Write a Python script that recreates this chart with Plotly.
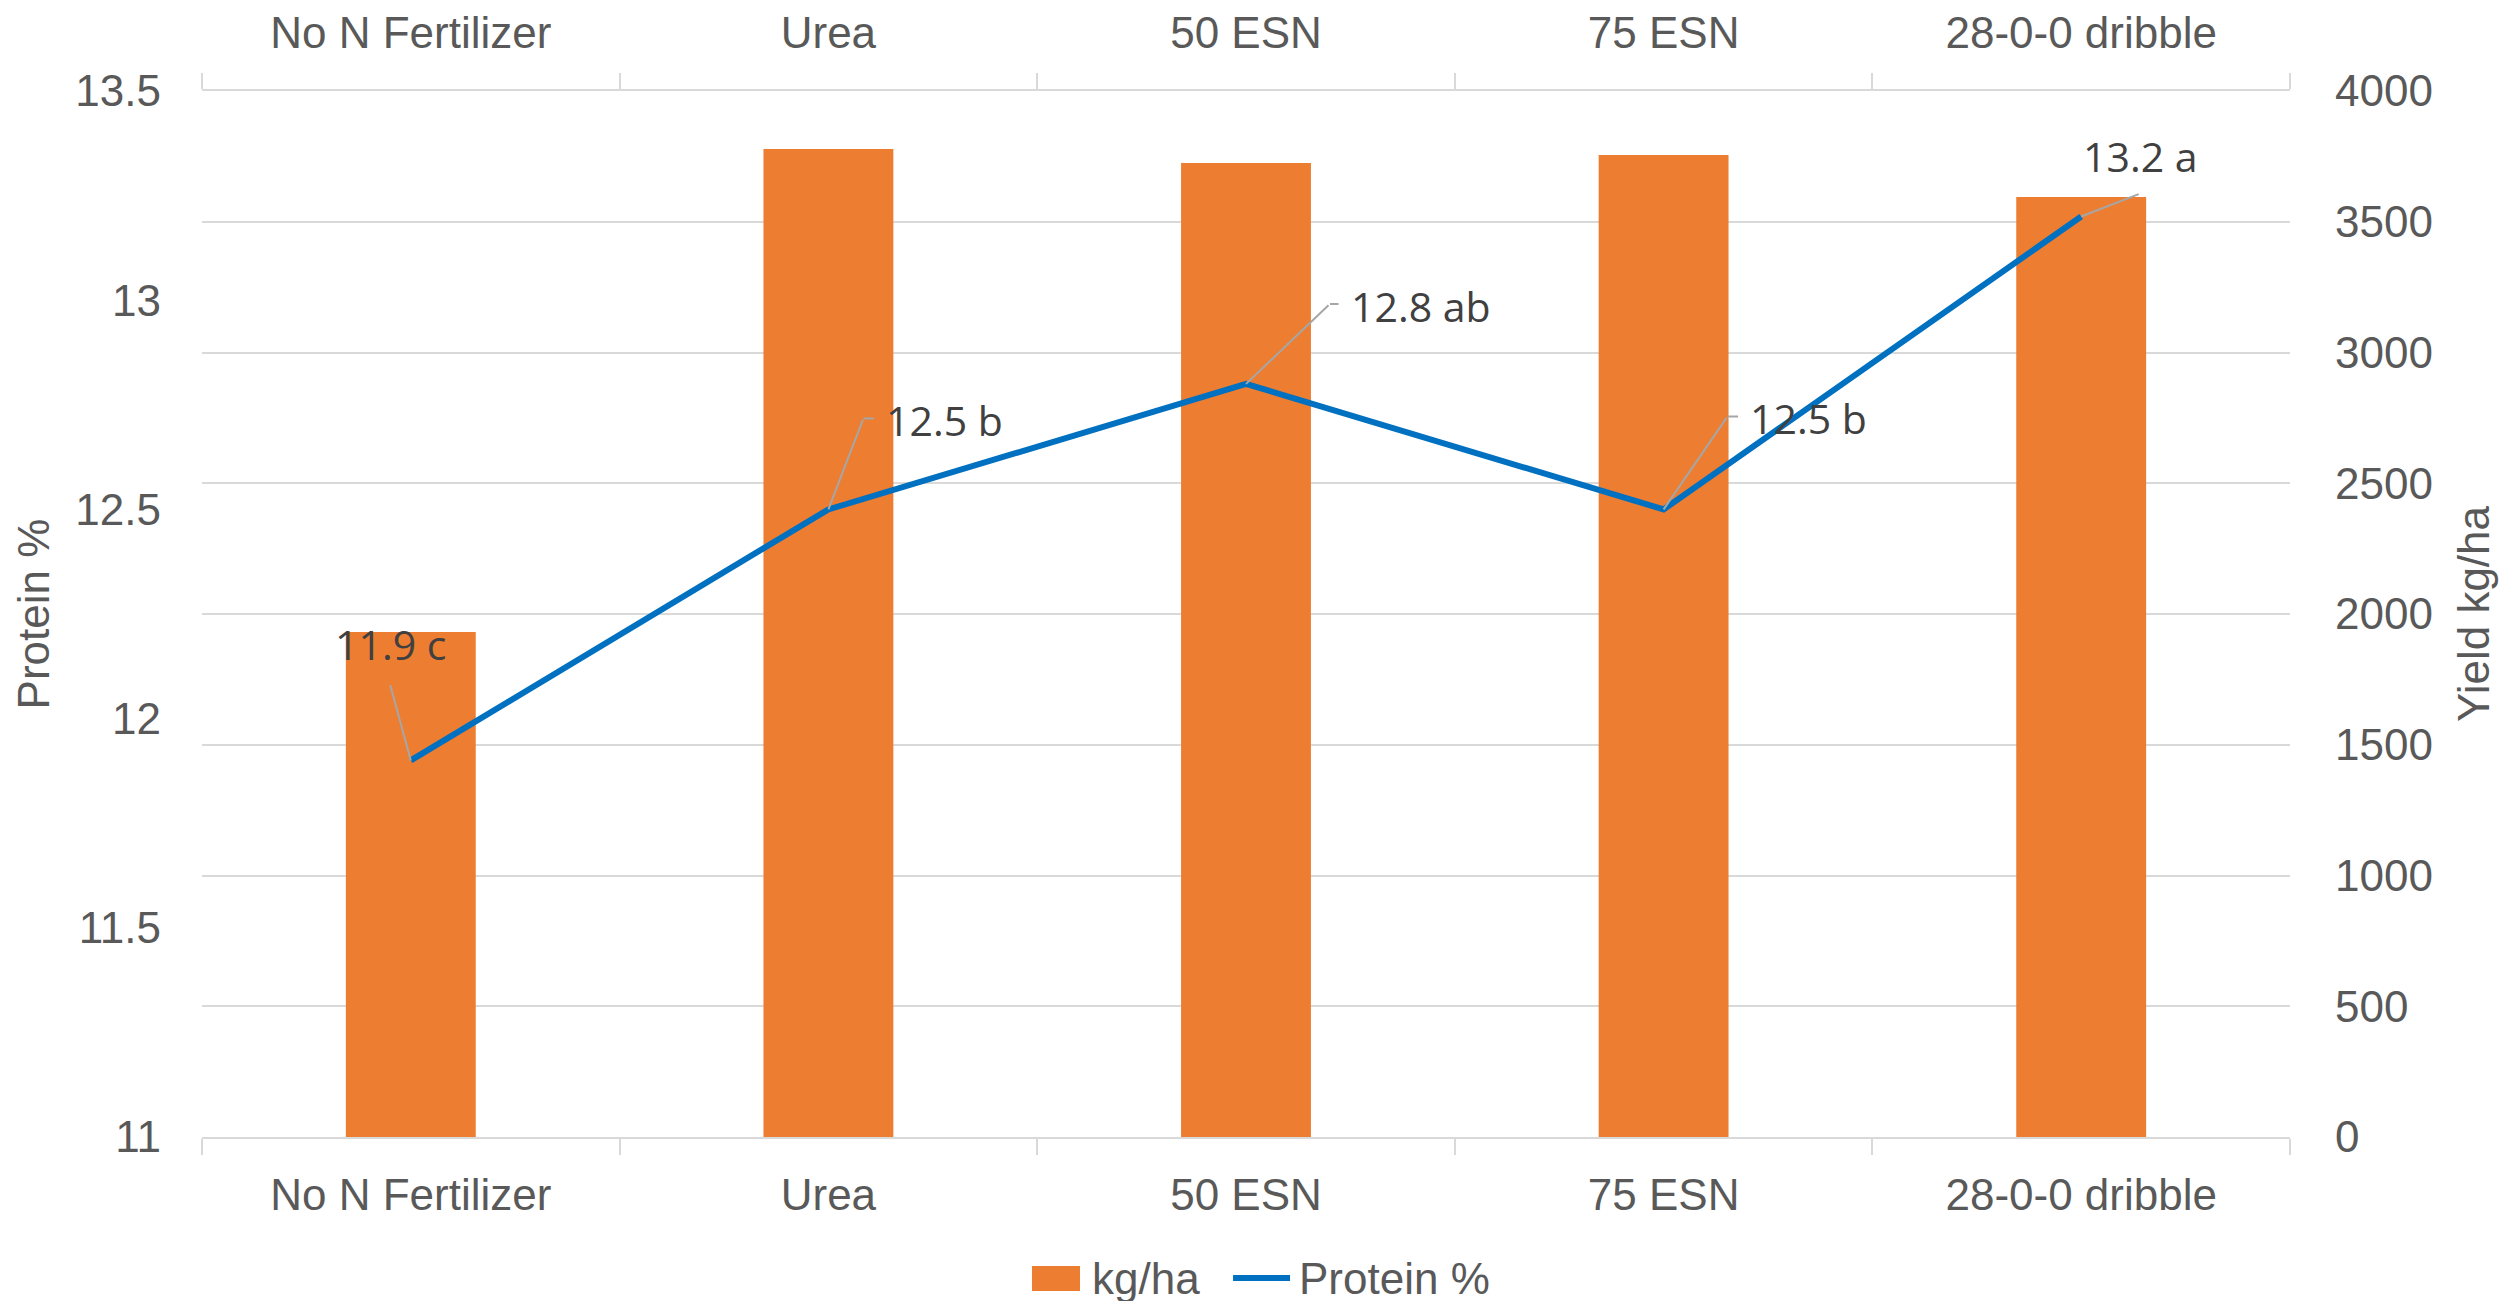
import plotly.graph_objects as go

# data
treatments = ["No N Fertilizer", "Urea", "50 ESN", "75 ESN", "28-0-0 dribble"]
yield_kg_ha = [1931, 3778, 3725, 3755, 3595]
protein_pct = [11.9, 12.5, 12.8, 12.5, 13.2]
protein_letters = ["c", "b", "ab", "b", "a"]

# label placement (pixels relative to the point): label centre, leader bend, leader end
label_offsets = [(-20, -116), (116, -89), (175, -78), (145, -91), (59, -61)]
leader_bends = [(-21, -77), (35, -91), (84, -80), (64, -93), (59, -23)]
leader_ends = [None, (47, -91), (94, -80), (76, -93), None]

ORANGE = "#ED7D31"
BLUE = "#0070C0"
GRID = "#D9D9D9"
TICK_FONT = dict(family="Liberation Sans, Arial, sans-serif", size=44, color="#595959")
LABEL_FONT = dict(family="Open Sans, sans-serif", size=41, color="#404040")

fig = go.Figure()

fig.add_trace(go.Bar(
    x=treatments, y=yield_kg_ha, name="kg/ha",
    marker=dict(color=ORANGE, line=dict(width=0)),
    xaxis="x", yaxis="y", showlegend=False,
))

fig.add_trace(go.Scatter(
    x=treatments, y=protein_pct, name="Protein %", mode="lines",
    line=dict(color=BLUE, width=6),
    xaxis="x2", yaxis="y2", showlegend=False,
))

annotations = []
for cat, val, letter, lab, bend, end in zip(treatments, protein_pct, protein_letters,
                                             label_offsets, leader_bends, leader_ends):
    # leader line, point -> bend
    annotations.append(dict(
        x=cat, y=val, xref="x2", yref="y2", text="", showarrow=True,
        arrowhead=0, arrowwidth=2, arrowcolor="#A6A6A6",
        ax=bend[0], ay=bend[1], standoff=0, startstandoff=0,
    ))
    # short horizontal piece
    if end is not None:
        annotations.append(dict(
            x=cat, y=val, xref="x2", yref="y2", text="", showarrow=True,
            arrowhead=0, arrowwidth=2, arrowcolor="#A6A6A6",
            xshift=bend[0], yshift=-bend[1],
            ax=end[0] - bend[0], ay=0, standoff=0, startstandoff=0,
        ))
    annotations.append(dict(
        x=cat, y=val, xref="x2", yref="y2", text=f"{val} {letter}",
        showarrow=False, xshift=lab[0], yshift=-lab[1],
        xanchor="center", yanchor="middle", font=LABEL_FONT,
    ))

# legend drawn like the Excel one (wide key boxes)
legend_y = -0.1348
annotations.append(dict(x=0.4253, y=legend_y, xref="paper", yref="paper", text="kg/ha",
                        showarrow=False, xanchor="left", yanchor="middle", font=TICK_FONT))
annotations.append(dict(x=0.5244, y=legend_y, xref="paper", yref="paper", text="Protein %",
                        showarrow=False, xanchor="left", yanchor="middle", font=TICK_FONT))
shapes = [
    dict(type="rect", xref="paper", yref="paper", x0=0.3975, x1=0.4205,
         y0=-0.1233, y1=-0.1472, fillcolor=ORANGE, line=dict(width=0)),
    dict(type="line", xref="paper", yref="paper", x0=0.4938, x1=0.5211,
         y0=legend_y, y1=legend_y, line=dict(color=BLUE, width=6)),
]

cat_range = [-0.5, len(treatments) - 0.5]

# page body adds an 8px offset, margins compensate for it
fig.update_layout(
    width=2511, height=1301,
    margin=dict(l=194, r=229, t=83, b=172),
    paper_bgcolor="white", plot_bgcolor="white",
    bargap=0.689,
    showlegend=False,
    xaxis=dict(
        type="category", categoryorder="array", categoryarray=treatments, range=cat_range,
        showline=True, linecolor=GRID, linewidth=2,
        ticks="outside", tickson="boundaries", ticklen=16, tickwidth=2, tickcolor=GRID,
        tickfont=TICK_FONT, ticklabelstandoff=18, showgrid=False, automargin=False,
    ),
    xaxis2=dict(
        type="category", categoryorder="array", categoryarray=treatments, range=cat_range,
        overlaying="x", side="top", anchor="y2",
        showline=True, linecolor=GRID, linewidth=2,
        ticks="outside", tickson="boundaries", ticklen=16, tickwidth=2, tickcolor=GRID,
        tickfont=TICK_FONT, ticklabelstandoff=23, showgrid=False, automargin=False,
    ),
    yaxis=dict(
        side="right", range=[0, 4000], dtick=500,
        showgrid=True, gridcolor=GRID, gridwidth=2, zeroline=False,
        tickfont=TICK_FONT, ticks="", ticklabelstandoff=44, automargin=False,
        title=dict(text="Yield kg/ha", font=TICK_FONT, standoff=26),
    ),
    yaxis2=dict(
        side="left", overlaying="y", range=[11, 13.5], dtick=0.5,
        showgrid=False, zeroline=False,
        tickfont=TICK_FONT, ticks="", ticklabelstandoff=40, automargin=False,
        title=dict(text="Protein %", font=TICK_FONT, standoff=11),
    ),
    annotations=annotations,
    shapes=shapes,
)

fig.write_html("out.html")
